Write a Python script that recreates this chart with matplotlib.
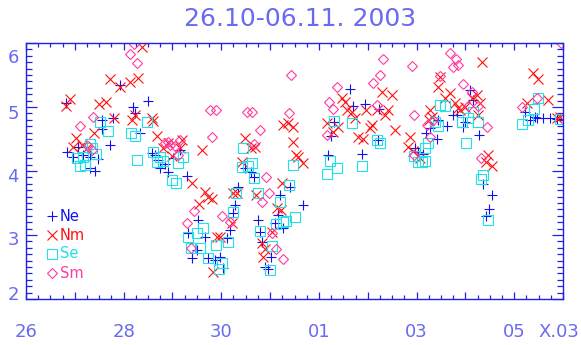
import numpy as np
import matplotlib
matplotlib.use("Agg")
import matplotlib.pyplot as plt
from matplotlib.ticker import MultipleLocator
from matplotlib.transforms import ScaledTranslation

# days counted from 26.10.2003 00 UT
ne_t = [0.82, 0.84, 0.96, 1.07, 1.17, 1.31, 1.48, 1.31, 1.41, 1.72, 1.56, 1.56, 1.78, 1.93, 2.19, 2.23,
        2.34, 2.50, 2.58, 2.64, 2.70, 2.85, 2.75, 2.91, 3.01, 3.16, 3.30, 3.52, 3.32, 3.67, 3.50, 3.40,
        3.73, 3.87, 3.98, 4.12, 4.04, 4.18, 4.24, 4.28, 4.34, 4.49, 4.61, 4.67, 4.75, 4.80, 4.84, 5.02,
        4.90, 4.96, 5.20, 5.16, 5.27, 5.10, 5.41, 5.68, 6.19, 6.25, 6.31, 6.64, 6.70, 6.95, 7.23, 7.21,
        6.89, 7.97, 8.03, 8.14, 8.20, 8.28, 8.42, 8.44, 8.63, 8.75, 8.83, 8.96, 9.00, 9.10, 9.16, 9.28,
        9.36, 9.55, 9.49, 9.43, 10.23, 10.33, 10.43, 10.47, 10.59, 10.74, 10.88]
ne_v = [5.06, 4.30, 4.22, 4.38, 4.25, 4.22, 4.19, 4.05, 4.00, 4.41, 4.66, 4.80, 4.83, 5.34, 5.00, 4.91,
        4.59, 5.09, 4.28, 4.25, 4.17, 4.11, 4.05, 3.98, 4.20, 4.33, 3.92, 3.23, 3.03, 2.97, 2.77, 2.64,
        2.64, 2.61, 2.66, 2.95, 2.48, 3.08, 3.34, 3.47, 3.75, 4.05, 3.98, 3.91, 3.23, 3.05, 2.89, 2.66,
        2.50, 2.47, 3.62, 3.31, 3.11, 3.19, 3.75, 3.47, 4.25, 4.55, 4.77, 5.28, 5.02, 5.05, 4.97, 4.48,
        4.27, 4.36, 4.30, 4.27, 4.59, 4.67, 4.50, 4.80, 4.70, 4.88, 4.88, 4.69, 4.77, 5.27, 5.11, 4.56,
        3.80, 3.62, 3.41, 3.30, 4.92, 4.80, 4.84, 4.83, 4.83, 4.83, 4.81]

nm_t = [0.82, 0.90, 1.02, 0.96, 1.15, 1.25, 1.39, 1.50, 1.64, 1.72, 1.80, 1.93, 2.13, 2.30, 2.38, 2.17,
        2.23, 2.58, 2.60, 2.68, 2.81, 2.91, 3.16, 3.20, 2.99, 3.61, 3.40, 3.67, 3.73, 3.81, 3.55, 3.91,
        3.98, 3.83, 4.24, 4.32, 4.22, 4.43, 4.49, 4.61, 4.69, 4.71, 4.84, 4.90, 4.86, 5.04, 5.14, 5.23,
        5.25, 5.27, 5.37, 5.47, 5.47, 5.53, 5.57, 5.68, 6.17, 6.29, 6.39, 6.48, 6.54, 6.58, 6.68, 6.74,
        6.80, 6.91, 7.05, 7.09, 6.97, 7.19, 7.30, 7.36, 7.50, 7.42, 7.56, 7.87, 7.83, 7.93, 8.07, 8.28,
        8.32, 8.26, 8.44, 8.48, 8.59, 8.69, 8.79, 8.85, 8.89, 9.00, 9.14, 9.24, 9.30, 9.26, 9.34, 9.47,
        9.43, 9.55, 10.27, 10.39, 10.48, 10.70, 10.88, 10.94]
nm_v = [5.02, 5.13, 4.52, 4.38, 4.41, 4.36, 4.59, 5.05, 5.08, 5.44, 4.83, 5.31, 5.39, 5.45, 5.94, 4.80,
        4.88, 4.83, 4.78, 4.55, 4.36, 4.44, 4.36, 4.48, 4.23, 4.33, 3.81, 3.67, 3.59, 3.56, 3.48, 2.97,
        2.97, 2.42, 3.66, 3.66, 3.19, 4.14, 4.52, 4.36, 4.38, 3.62, 2.88, 2.78, 2.66, 3.05, 3.42, 3.39,
        3.81, 4.72, 4.75, 4.69, 4.45, 4.25, 4.22, 4.13, 4.75, 4.61, 4.69, 5.14, 5.08, 4.95, 4.92, 4.83,
        4.53, 4.50, 4.67, 4.72, 4.95, 4.95, 5.23, 4.88, 5.19, 4.95, 4.64, 4.53, 4.38, 4.31, 4.20, 4.95,
        4.84, 4.80, 5.31, 5.47, 5.14, 5.22, 5.06, 4.98, 4.95, 5.00, 5.14, 5.19, 5.06, 4.88, 5.70, 4.25,
        4.14, 4.08, 5.06, 5.53, 5.44, 5.11, 4.83, 4.84]

se_t = [1.05, 1.11, 1.21, 1.17, 1.31, 1.35, 1.43, 1.52, 1.68, 2.15, 2.23, 2.27, 2.48, 2.60, 2.68, 2.75,
        2.81, 2.99, 3.07, 3.11, 3.22, 3.32, 3.38, 3.50, 3.57, 3.63, 3.73, 3.89, 4.02, 3.95, 4.14, 4.24,
        4.30, 4.45, 4.43, 4.55, 4.63, 4.67, 4.75, 4.80, 5.04, 5.00, 5.20, 5.12, 5.27, 5.33, 5.39, 5.47,
        5.51, 6.17, 6.23, 6.37, 6.31, 6.68, 6.89, 7.19, 7.25, 7.95, 8.03, 8.11, 8.18, 8.24, 8.18, 8.38,
        8.44, 8.48, 8.59, 8.93, 9.06, 9.16, 9.26, 9.02, 9.36, 9.32, 9.47, 10.16, 10.29, 10.41, 10.49, 10.94]
se_v = [4.20, 4.08, 4.09, 4.22, 4.42, 4.36, 4.27, 4.77, 4.63, 4.59, 4.55, 4.17, 4.77, 4.30, 4.14, 4.22,
        4.16, 3.86, 3.81, 4.13, 4.22, 2.97, 2.80, 3.03, 2.80, 3.11, 2.64, 2.84, 2.56, 2.47, 2.89, 3.36,
        3.66, 4.36, 4.06, 4.08, 4.13, 3.89, 3.66, 3.06, 2.83, 2.45, 3.52, 3.17, 3.20, 3.22, 3.78, 4.09,
        3.28, 3.95, 4.16, 4.05, 4.78, 4.75, 4.08, 4.48, 4.44, 4.23, 4.14, 4.14, 4.36, 4.44, 4.16, 4.77,
        4.70, 5.03, 5.02, 4.77, 4.83, 4.92, 4.77, 4.44, 3.94, 3.88, 3.23, 4.73, 4.80, 4.97, 5.14, 4.81]

sm_t = [1.11, 1.37, 1.27, 1.35, 2.13, 2.21, 2.27, 2.85, 2.95, 3.05, 3.16, 3.11, 2.91, 3.81, 3.77, 3.89,
        4.53, 4.63, 4.80, 4.67, 4.92, 4.98, 4.84, 5.39, 5.43, 3.44, 3.30, 3.38, 4.02, 4.18, 5.04, 5.12,
        5.27, 6.17, 6.21, 6.29, 6.37, 7.11, 7.25, 7.32, 7.19, 7.91, 7.95, 7.95, 8.28, 8.22, 8.34, 8.48,
        8.69, 8.81, 8.85, 8.75, 8.96, 9.14, 9.06, 9.26, 9.45, 9.32, 10.16, 10.47, 10.96]
sm_v = [4.70, 4.84, 4.39, 4.33, 5.83, 5.98, 5.69, 4.44, 4.41, 4.39, 4.48, 4.25, 4.45, 4.53, 4.95, 4.95,
        4.92, 4.92, 4.64, 4.42, 3.91, 3.66, 3.52, 4.91, 5.50, 3.38, 3.19, 2.80, 3.30, 3.20, 3.03, 2.78,
        2.63, 4.56, 5.08, 4.97, 5.31, 5.38, 5.50, 5.75, 5.03, 5.64, 4.88, 4.25, 4.53, 4.72, 4.80, 5.48,
        5.84, 5.75, 5.66, 5.63, 5.36, 5.23, 5.02, 5.02, 4.69, 4.20, 5.00, 5.14, 6.00]

day_ticks = [0, 2, 4, 6, 8, 10]
day_labels = ["26", "28", "30", "01", "03", "05"]

axcol = "#2020e8"
txtcol = "#6a6af0"
c_ne, c_nm, c_se, c_sm = "#1010f0", "#ff1010", "#20e0e8", "#ff3aa0"
mw = 0.8

fig = plt.figure(figsize=(5.81, 3.45), dpi=100)
ax = fig.add_axes([26/581, 46/345, 537/581, 256/345])

ax.plot(ne_t, ne_v, ls="none", marker="+", ms=7.4, mew=mw, color=c_ne)
ax.plot(nm_t, nm_v, ls="none", marker="x", ms=7.0, mew=mw, color=c_nm)
ax.plot(se_t, se_v, ls="none", marker="s", ms=7.0, mew=mw, mfc="none", color=c_se)
ax.plot(sm_t, sm_v, ls="none", marker="D", ms=5.0, mew=mw, mfc="none", color=c_sm)

ax.set_xlim(0, 11)
ax.set_ylim(2, 6)

ax.xaxis.set_minor_locator(MultipleLocator(0.25))
ax.yaxis.set_major_locator(MultipleLocator(1))
ax.yaxis.set_minor_locator(MultipleLocator(0.1))
ax.set_xticks(range(12))
ax.set_xticklabels([day_labels[day_ticks.index(d)] if d in day_ticks else "" for d in range(12)])

for s in ax.spines.values():
    s.set_color(axcol)
    s.set_linewidth(1.0)
ax.tick_params(which="both", direction="in", top=True, right=True, color=axcol, width=0.9,
               labelcolor=txtcol, labelsize=13)
ax.tick_params(axis="x", which="major", length=5, pad=17)
ax.tick_params(axis="x", which="minor", length=3)
ax.tick_params(axis="y", which="major", length=8, pad=5)
ax.tick_params(axis="y", which="minor", length=4)

# y labels sit a little below their ticks, end labels pulled inside
shifts = {2: 6, 3: -3, 4: -4, 5: -5, 6: -13}
for v, lab in zip(ax.get_yticks(), ax.get_yticklabels()):
    dy = shifts.get(int(round(v)), 0)
    lab.set_transform(lab.get_transform() + ScaledTranslation(0, dy / 100, fig.dpi_scale_trans))

ax.text(538/581, 13/345, "X.03", transform=fig.transFigure, color=txtcol, fontsize=13,
        ha="left", va="center")

fig.text(300/581, 1 - 19/345, "26.10-06.11. 2003", color=txtcol, fontsize=18,
         ha="center", va="center")

# legend drawn by hand, marker + coloured name
leg = [("Ne", "+", c_ne, 7.4), ("Nm", "x", c_nm, 7.0), ("Se", "s", c_se, 7.0), ("Sm", "D", c_sm, 5.0)]
for i, (name, m, c, ms) in enumerate(leg):
    yy = 1 - (216 + 19 * i) / 345
    fig.lines.append(plt.Line2D([52/581], [yy], ls="none", marker=m, ms=ms, mew=mw,
                                mfc="none", color=c, transform=fig.transFigure))
    fig.text(60/581, yy, name, color=c, fontsize=10.5, ha="left", va="center")

fig.savefig("out.png", dpi=100)
